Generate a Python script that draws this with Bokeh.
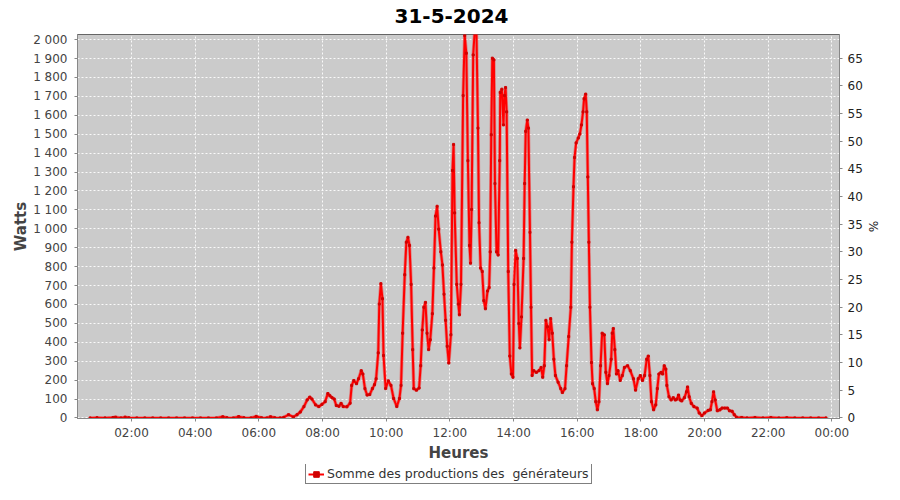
from bokeh.plotting import figure
from bokeh.layouts import column
from bokeh.models import Range1d, LinearAxis, FixedTicker, Legend, LegendItem, ColumnDataSource, Title
from bokeh.embed import file_html
from bokeh.resources import INLINE

# ---- data ----
times = [
    "00:42", "00:55", "01:10", "01:25", "01:30", "01:40", "01:48", "01:55", "02:10", "02:25",
    "02:40", "02:55", "03:10", "03:25", "03:40", "03:55", "04:10", "04:25", "04:40", "04:52",
    "05:00", "05:12", "05:22", "05:32", "05:45", "05:55", "06:05", "06:15", "06:22", "06:30",
    "06:40", "06:47",
    "06:56", "07:05", "07:12", "07:18", "07:25", "07:31", "07:36", "07:40", "07:47", "07:53",
    "07:59", "08:05", "08:10", "08:14", "08:18", "08:22", "08:26", "08:31", "08:35", "08:39",
    "08:46", "08:52", "08:55", "08:59", "09:04", "09:08", "09:13", "09:16", "09:20", "09:24",
    "09:29", "09:34", "09:38", "09:41", "09:45", "09:47", "09:50", "09:53", "09:55", "09:59",
    "10:04", "10:09", "10:14", "10:20", "10:25", "10:28", "10:31", "10:35", "10:38", "10:41",
    "10:44", "10:47", "10:50", "10:52", "10:57", "11:02", "11:05", "11:08", "11:11", "11:14",
    "11:17", "11:20", "11:23", "11:27", "11:30", "11:33", "11:36", "11:39", "11:43", "11:46",
    "11:49", "11:52", "11:55", "11:58", "12:02", "12:05", "12:07", "12:09", "12:13", "12:16",
    "12:18", "12:21", "12:25", "12:28", "12:31", "12:34", "12:37", "12:39", "12:41", "12:44",
    "12:47", "12:50", "12:53", "12:55", "12:58", "13:01", "13:04", "13:07", "13:11", "13:14",
    "13:16", "13:18", "13:20", "13:23", "13:25", "13:28", "13:31", "13:34", "13:35", "13:38",
    "13:41", "13:43", "13:45", "13:47", "13:50", "13:53", "13:56", "13:59", "14:01", "14:04",
    "14:07", "14:10", "14:12", "14:15", "14:19", "14:21", "14:23", "14:26", "14:28", "14:31",
    "14:33", "14:35", "14:38", "14:43", "14:48", "14:52", "14:55", "14:58", "15:01", "15:04",
    "15:07", "15:10", "15:13", "15:16", "15:19", "15:24", "15:29", "15:32", "15:37", "15:40",
    "15:44", "15:48", "15:50", "15:53", "15:55", "15:58", "16:02", "16:05", "16:08", "16:11",
    "16:13", "16:16", "16:18", "16:20", "16:22", "16:24", "16:27", "16:29", "16:32", "16:35",
    "16:38", "16:41", "16:44", "16:47", "16:51", "16:54", "16:57", "17:00", "17:04", "17:06",
    "17:08", "17:11", "17:14", "17:17", "17:21", "17:25", "17:29", "17:35", "17:40", "17:46",
    "17:50", "17:55", "17:59", "18:03", "18:07", "18:11", "18:14", "18:17", "18:20", "18:24",
    "18:28", "18:31", "18:34", "18:38", "18:41", "18:44", "18:47", "18:49", "18:53", "18:57",
    "19:01", "19:05", "19:08", "19:11", "19:14", "19:17", "19:22", "19:26", "19:28", "19:31",
    "19:35", "19:40", "19:46", "19:50", "19:55", "20:00", "20:07", "20:11", "20:14", "20:17",
    "20:20", "20:24", "20:29", "20:33", "20:38", "20:43", "20:47", "20:52", "20:56", "21:00",
    "21:10", "21:20", "21:35", "21:50", "22:05", "22:20", "22:35", "22:50", "23:05", "23:20",
    "23:35", "23:49",
]
watts = [
    0, 1, 0, 2, 4, 0, 4, 1, 0, 0,
    0, 0, 0, 0, 0, 0, 0, 0, 0, 6,
    1, 0, 7, 1, 0, 8, 1, 0, 6, 1,
    0, 3,
    17, 5, 17, 31, 60, 95, 110, 100, 69, 60,
    72, 86, 129, 117, 107, 100, 66, 62, 77, 60,
    59, 78, 172, 198, 181, 207, 250, 232, 155, 121,
    124, 155, 176, 207, 344, 602, 710, 630, 330, 155,
    196, 172, 103, 60, 103, 172, 448, 757, 929, 955,
    912, 706, 361, 155, 147, 158, 276, 465, 585, 611,
    448, 361, 413, 551, 792, 1067, 1119, 998, 878, 809,
    654, 516, 379, 290, 440, 1308, 1446, 1084, 706, 602,
    545, 706, 1704, 2022, 1928, 1360, 912, 818, 1102, 1919,
    2050, 2060, 1532, 1032, 792, 774, 620, 577, 671, 689,
    878, 1497, 1902, 1893, 1239, 878, 861, 1360, 1721, 1738,
    1549, 1704, 1747, 1618, 774, 327, 232, 215, 706, 886,
    843, 499, 370, 534, 843, 1239, 1515, 1575, 1532, 981,
    585, 224, 250, 241, 250, 267, 215, 276, 516, 482,
    413, 525, 448, 310, 224, 189, 155, 134, 155, 276,
    430, 585, 929, 1222, 1377, 1454, 1480, 1501, 1549, 1618,
    1687, 1712, 1618, 1274, 929, 585, 293, 181, 155, 86,
    43, 86, 276, 448, 439, 241, 181, 224, 310, 448,
    473, 361, 232, 250, 198, 224, 267, 276, 250, 207,
    147, 207, 224, 198, 224, 310, 327, 224, 86, 43,
    69, 155, 232, 241, 232, 276, 258, 172, 112, 95,
    107, 95, 100, 121, 95, 90, 107, 138, 164, 112,
    77, 60, 52, 26, 12, 26, 40, 43, 86, 138,
    95, 38, 43, 52, 52, 52, 38, 35, 17, 4,
    2, 0, 2, 0, 2, 0, 1, 0, 0, 0,
    0, 0,
]
x_tick_hours = [2, 4, 6, 8, 10, 12, 14, 16, 18, 20, 22, 24]
x_tick_labels = ["02:00", "04:00", "06:00", "08:00", "10:00", "12:00",
                 "14:00", "16:00", "18:00", "20:00", "22:00", "00:00"]
y_ticks = [0, 100, 200, 300, 400, 500, 600, 700, 800, 900, 1000,
           1100, 1200, 1300, 1400, 1500, 1600, 1700, 1800, 1900, 2000]
y_tick_labels = ["0", "100", "200", "300", "400", "500", "600", "700", "800", "900",
                 "1 000", "1 100", "1 200", "1 300", "1 400", "1 500", "1 600",
                 "1 700", "1 800", "1 900", "2 000"]
pct_ticks = [0, 5, 10, 15, 20, 25, 30, 35, 40, 45, 50, 55, 60, 65]

chart_title = "31-5-2024"
series_label = "Somme des productions des  générateurs"

hours = [int(t[:2]) + int(t[3:]) / 60.0 for t in times]
src = ColumnDataSource(data=dict(h=hours, w=watts))

FONT = "DejaVu Sans"
TXT = "#444444"
AXC = "#888888"
RED = "#ff0000"

p = figure(width=884, height=464, output_backend="svg", toolbar_location=None, title=None,
           x_range=Range1d(0.304, 24.239), y_range=Range1d(-3, 2027),
           min_border_left=77, min_border_right=45, min_border_top=34, min_border_bottom=39,
           background_fill_color="#cbcbcb", border_fill_color="white")

# spacer title (closest to the frame), then the real title above it
p.add_layout(Title(text=" ", text_font_size="9px", standoff=0), "above")
p.add_layout(Title(text=chart_title, align="left", offset=317, standoff=0,
                   text_font=FONT, text_font_size="20px", text_font_style="bold",
                   text_color="black"), "above")

p.outline_line_color = "#666666"
p.outline_line_width = 1

p.extra_y_ranges = {"pct": Range1d(-0.1, 69.3)}
raxis = LinearAxis(y_range_name="pct", axis_label="%", ticker=FixedTicker(ticks=pct_ticks))
p.add_layout(raxis, "right")

p.xaxis.ticker = FixedTicker(ticks=x_tick_hours)
p.xaxis.major_label_overrides = {h: l for h, l in zip(x_tick_hours, x_tick_labels)}
p.xaxis.axis_label = "Heures"
p.yaxis[0].ticker = FixedTicker(ticks=y_ticks)
p.yaxis[0].major_label_overrides = {t: l for t, l in zip(y_ticks, y_tick_labels)}
p.yaxis[0].axis_label = "Watts"

for ax in p.xaxis + p.yaxis:
    ax.axis_line_color = AXC
    ax.major_tick_line_color = AXC
    ax.minor_tick_line_color = None
    ax.major_tick_in = 0
    ax.major_tick_out = 3
    ax.major_label_text_font = FONT
    ax.major_label_text_font_size = "12px"
    ax.major_label_text_color = TXT
    ax.axis_label_text_font = FONT
    ax.axis_label_text_color = TXT
    ax.axis_label_text_font_size = "15px"
    ax.axis_label_text_font_style = "bold"

p.xaxis.major_label_standoff = 4
p.xaxis.axis_label_standoff = 1
p.yaxis[0].major_label_standoff = 7
p.yaxis[0].axis_label_standoff = 0
raxis.major_label_standoff = 5
raxis.axis_label_text_font_style = "normal"
raxis.axis_label_text_font_size = "12px"
raxis.axis_label_text_color = "#222222"
raxis.major_label_text_color = "#222222"
raxis.axis_label_standoff = 0

p.xgrid.grid_line_color = "white"
p.xgrid.grid_line_dash = "2 2"
p.xgrid.grid_line_alpha = 0.9
p.ygrid.grid_line_color = "white"
p.ygrid.grid_line_dash = "2 2"
p.ygrid.grid_line_alpha = 0.9

p.line("h", "w", source=src, line_color=RED, line_width=3.5, line_alpha=0.35)
p.line("h", "w", source=src, line_color=RED, line_width=2)
p.scatter("h", "w", source=src, marker="square", size=2, color="#d00000")

# ---- legend strip below the chart ----
lg = figure(width=884, height=20, output_backend="svg", toolbar_location=None,
            x_axis_type=None, y_axis_type=None, min_border=0,
            x_range=Range1d(100, 101), y_range=Range1d(100, 101),
            background_fill_color="white", border_fill_color="white")
lg.outline_line_color = None
lg.grid.visible = False
l1 = lg.line("h", "w", source=src, line_color=RED, line_width=2)
l2 = lg.scatter("h", "w", source=src, marker="square", size=4, color="#d00000")
legend = Legend(items=[LegendItem(label=series_label, renderers=[l1, l2])],
                location=(228, 0))
legend.border_line_color = "black"
legend.border_line_width = 1
legend.background_fill_color = "white"
legend.background_fill_alpha = 1
legend.padding = 2
legend.margin = 0
legend.spacing = 0
legend.glyph_width = 16
legend.glyph_height = 14
legend.label_standoff = 3
legend.label_height = 14
legend.label_text_font = FONT
legend.label_text_font_size = "12.5px"
legend.label_text_color = "#333333"
lg.add_layout(legend)

layout = column(p, lg, spacing=0)
open("out.html", "w").write(file_html(layout, INLINE))
